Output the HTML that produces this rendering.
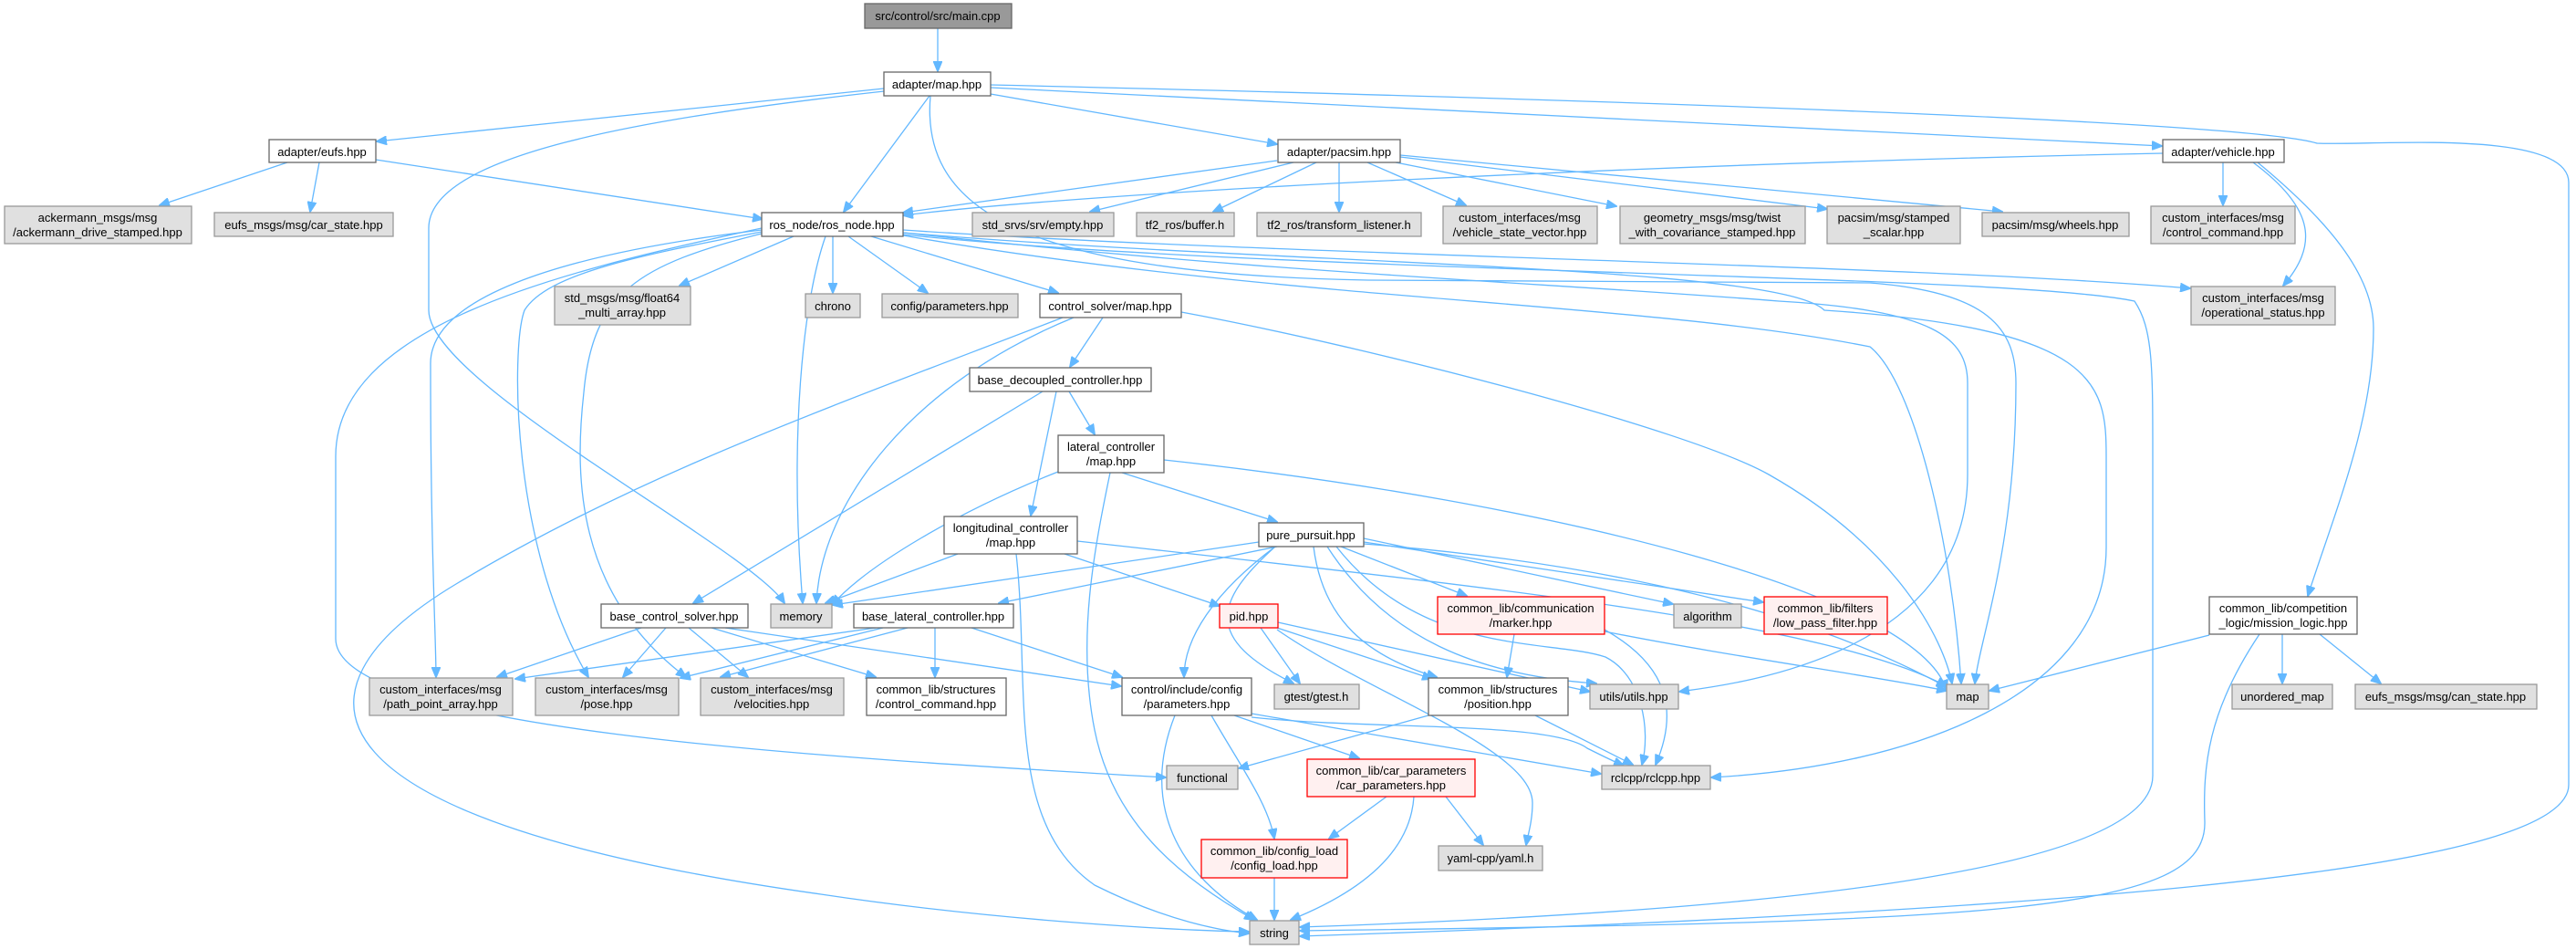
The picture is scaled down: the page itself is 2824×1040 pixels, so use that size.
<!DOCTYPE html>
<html><head><meta charset="utf-8"><style>
html,body{margin:0;padding:0;background:#fff}
svg{display:block}
text{font-family:"Liberation Sans",Arial,sans-serif;font-size:13px;fill:#000;text-anchor:middle}
.e{fill:none;stroke:#63b8ff;stroke-width:1.3}
.w{fill:#fff;stroke:#666;stroke-width:1.3}
.g{fill:#e0e0e0;stroke:#999;stroke-width:1.3}
.r{fill:#fff0f0;stroke:#ff0000;stroke-width:1.3}
.m{fill:#999;stroke:#666;stroke-width:1.3}
</style></head><body>
<svg width="2824" height="1040" viewBox="0 0 2824 1040" xmlns="http://www.w3.org/2000/svg">
<defs><marker id="a" markerWidth="12" markerHeight="10" refX="11" refY="5" orient="auto" markerUnits="userSpaceOnUse"><path d="M0,0 L12,5 L0,10 z" fill="#63b8ff" stroke="#63b8ff"/></marker></defs>
<g marker-end="url(#a)">
<path class="e" d="M1028,31 L1028,78"/>
<path class="e" d="M969,97 L413,155"/>
<path class="e" d="M969,100 C700,130 470,170 470,250 L470,340 C470,420 820,600 860,661"/>
<path class="e" d="M1019,105 L925,232"/>
<path class="e" d="M1086,103 L1400,158"/>
<path class="e" d="M1086,96 L2370,160"/>
<path class="e" d="M1086,93 C1600,105 2450,130 2540,157 C2600,160 2816,140 2816,200 L2816,860 C2816,960 2200,1000 1425,1026"/>
<path class="e" d="M1020,105 C1010,220 1100,300 1500,307 L2050,310 C2180,320 2210,360 2210,420 C2210,600 2170,700 2165,749"/>
<path class="e" d="M412,175 L836,240"/>
<path class="e" d="M315,178 L175,225"/>
<path class="e" d="M350,178 L340,232"/>
<path class="e" d="M1400,176 L990,233"/>
<path class="e" d="M2371,168 C1800,180 1200,210 990,236"/>
<path class="e" d="M1418,178 L1195,232"/>
<path class="e" d="M1443,178 L1330,232"/>
<path class="e" d="M1468,178 L1468,232"/>
<path class="e" d="M1499,178 L1607,225"/>
<path class="e" d="M1530,178 L1772,226"/>
<path class="e" d="M1535,172 L2003,229"/>
<path class="e" d="M1535,170 L2195,232"/>
<path class="e" d="M2437,178 L2437,225"/>
<path class="e" d="M2470,178 C2540,230 2540,270 2503,313"/>
<path class="e" d="M2475,178 C2550,240 2602,300 2602,360 C2602,460 2560,560 2530,653"/>
<path class="e" d="M870,259 L745,313"/>
<path class="e" d="M913,259 L913,321"/>
<path class="e" d="M930,259 L1017,321"/>
<path class="e" d="M955,259 L1160,321"/>
<path class="e" d="M905,259 C880,330 865,480 880,661"/>
<path class="e" d="M835,252 C600,280 470,330 472,400 C472,600 478,700 478,742"/>
<path class="e" d="M835,254 C700,280 600,300 575,340 C560,380 560,600 645,742"/>
<path class="e" d="M835,256 C700,290 650,320 640,430 C630,520 630,650 752,742"/>
<path class="e" d="M835,250 C600,300 368,360 368,500 L368,700 C368,800 900,830 1278,852"/>
<path class="e" d="M990,252 C1400,280 2100,290 2401,316"/>
<path class="e" d="M990,255 C1400,290 1950,290 2000,340 C2300,360 2309,420 2309,500 L2309,600 C2309,760 2100,840 1876,852"/>
<path class="e" d="M990,257 C1400,300 2200,300 2340,330 C2360,360 2360,400 2360,500 L2360,850 C2360,960 1900,1000 1425,1016"/>
<path class="e" d="M990,255 C1400,300 1700,310 1950,330 C2120,340 2157,370 2157,420 L2157,520 C2157,720 1900,750 1841,758"/>
<path class="e" d="M990,258 C1400,330 1800,330 2050,380 C2100,420 2140,600 2150,749"/>
<path class="e" d="M1165,348 C900,450 700,520 500,640 C300,760 330,900 900,980 C1100,1010 1300,1020 1369,1021"/>
<path class="e" d="M1177,348 C1000,420 900,550 895,661"/>
<path class="e" d="M1209,348 L1173,402"/>
<path class="e" d="M1295,342 C1500,380 1850,470 1939,520 C2080,600 2130,700 2140,749"/>
<path class="e" d="M1143,429 L760,661"/>
<path class="e" d="M1158,429 L1130,565"/>
<path class="e" d="M1172,429 L1200,476"/>
<path class="e" d="M1165,515 C1050,560 950,620 912,663"/>
<path class="e" d="M1230,518 L1400,572"/>
<path class="e" d="M1217,518 C1200,600 1180,700 1200,800 C1220,900 1290,960 1375,1008"/>
<path class="e" d="M1276,504 C1700,550 2100,650 2134,756"/>
<path class="e" d="M1050,607 L905,661"/>
<path class="e" d="M1167,607 L1337,664"/>
<path class="e" d="M1114,607 C1130,750 1100,900 1200,970 C1280,1010 1340,1020 1369,1023"/>
<path class="e" d="M1181,593 C1600,640 2000,680 2134,752"/>
<path class="e" d="M1380,594 L913,663"/>
<path class="e" d="M1400,599 L1095,661"/>
<path class="e" d="M1398,599 C1330,650 1298,700 1298,742"/>
<path class="e" d="M1398,599 C1330,660 1320,700 1418,749"/>
<path class="e" d="M1470,599 L1608,653"/>
<path class="e" d="M1495,590 L1834,662"/>
<path class="e" d="M1495,594 L1933,660"/>
<path class="e" d="M1440,599 C1450,680 1500,720 1575,742"/>
<path class="e" d="M1455,599 C1520,700 1620,740 1750,749"/>
<path class="e" d="M1465,599 C1560,720 1700,700 1760,720 C1800,740 1810,800 1800,838"/>
<path class="e" d="M1495,596 C1800,620 2000,680 2134,753"/>
<path class="e" d="M960,688 L565,744"/>
<path class="e" d="M968,688 L746,743"/>
<path class="e" d="M995,688 L790,742"/>
<path class="e" d="M1025,688 L1025,742"/>
<path class="e" d="M1065,688 L1230,742"/>
<path class="e" d="M703,688 L545,742"/>
<path class="e" d="M730,688 L683,742"/>
<path class="e" d="M755,688 L820,742"/>
<path class="e" d="M780,688 L960,742"/>
<path class="e" d="M795,688 L1229,752"/>
<path class="e" d="M1382,688 L1425,749"/>
<path class="e" d="M1400,688 L1570,744"/>
<path class="e" d="M1401,682 L1743,758"/>
<path class="e" d="M1400,690 C1500,760 1680,820 1680,880 C1680,900 1675,915 1673,926"/>
<path class="e" d="M1759,690 C1830,730 1840,780 1815,838"/>
<path class="e" d="M1759,692 C1900,720 2050,740 2134,757"/>
<path class="e" d="M1660,695 L1652,742"/>
<path class="e" d="M1288,784 C1250,880 1290,960 1378,1008"/>
<path class="e" d="M1328,784 C1360,840 1390,880 1397,919"/>
<path class="e" d="M1353,784 L1490,831"/>
<path class="e" d="M1372,782 L1755,848"/>
<path class="e" d="M1372,786 C1500,800 1700,790 1740,820 C1760,830 1770,835 1780,839"/>
<path class="e" d="M1566,784 L1358,842"/>
<path class="e" d="M1683,784 L1790,838"/>
<path class="e" d="M1520,873 L1457,919"/>
<path class="e" d="M1585,873 L1626,926"/>
<path class="e" d="M1550,873 C1545,950 1460,990 1415,1008"/>
<path class="e" d="M1397,962 L1397,1008"/>
<path class="e" d="M2422,696 L2181,757"/>
<path class="e" d="M2502,695 L2502,749"/>
<path class="e" d="M2543,695 L2610,749"/>
<path class="e" d="M2477,695 C2420,780 2415,840 2417,900 C2420,1000 2200,1010 1425,1020"/>
</g>
<g>
<rect class="m" x="948" y="4" width="161" height="27"/><text x="1028" y="22">src/control/src/main.cpp</text>
<rect class="w" x="969" y="79" width="117" height="26"/><text x="1027" y="97">adapter/map.hpp</text>
<rect class="w" x="295" y="153" width="117" height="25"/><text x="353" y="171">adapter/eufs.hpp</text>
<rect class="w" x="1401" y="153" width="134" height="25"/><text x="1468" y="171">adapter/pacsim.hpp</text>
<rect class="w" x="2371" y="153" width="133" height="25"/><text x="2437" y="171">adapter/vehicle.hpp</text>
<rect class="g" x="5" y="226" width="205" height="41"/><text x="107" y="243">ackermann_msgs/msg</text><text x="107" y="259">/ackermann_drive_stamped.hpp</text>
<rect class="g" x="235" y="233" width="196" height="26"/><text x="333" y="251">eufs_msgs/msg/car_state.hpp</text>
<rect class="w" x="835" y="233" width="155" height="26"/><text x="912" y="251">ros_node/ros_node.hpp</text>
<rect class="g" x="1066" y="233" width="155" height="26"/><text x="1143" y="251">std_srvs/srv/empty.hpp</text>
<rect class="g" x="1246" y="233" width="107" height="26"/><text x="1299" y="251">tf2_ros/buffer.h</text>
<rect class="g" x="1378" y="233" width="180" height="26"/><text x="1468" y="251">tf2_ros/transform_listener.h</text>
<rect class="g" x="1582" y="226" width="169" height="41"/><text x="1666" y="243">custom_interfaces/msg</text><text x="1666" y="259">/vehicle_state_vector.hpp</text>
<rect class="g" x="1776" y="226" width="203" height="41"/><text x="1877" y="243">geometry_msgs/msg/twist</text><text x="1877" y="259">_with_covariance_stamped.hpp</text>
<rect class="g" x="2003" y="226" width="146" height="41"/><text x="2076" y="243">pacsim/msg/stamped</text><text x="2076" y="259">_scalar.hpp</text>
<rect class="g" x="2173" y="233" width="161" height="26"/><text x="2253" y="251">pacsim/msg/wheels.hpp</text>
<rect class="g" x="2358" y="226" width="158" height="41"/><text x="2437" y="243">custom_interfaces/msg</text><text x="2437" y="259">/control_command.hpp</text>
<rect class="g" x="608" y="314" width="149" height="42"/><text x="682" y="331">std_msgs/msg/float64</text><text x="682" y="347">_multi_array.hpp</text>
<rect class="g" x="883" y="322" width="60" height="26"/><text x="913" y="340">chrono</text>
<rect class="g" x="967" y="322" width="149" height="26"/><text x="1041" y="340">config/parameters.hpp</text>
<rect class="w" x="1140" y="322" width="155" height="26"/><text x="1217" y="340">control_solver/map.hpp</text>
<rect class="g" x="2402" y="314" width="158" height="42"/><text x="2481" y="331">custom_interfaces/msg</text><text x="2481" y="347">/operational_status.hpp</text>
<rect class="w" x="1063" y="403" width="199" height="26"/><text x="1162" y="421">base_decoupled_controller.hpp</text>
<rect class="w" x="1160" y="477" width="116" height="41"/><text x="1218" y="494">lateral_controller</text><text x="1218" y="510">/map.hpp</text>
<rect class="w" x="1035" y="566" width="146" height="41"/><text x="1108" y="583">longitudinal_controller</text><text x="1108" y="599">/map.hpp</text>
<rect class="w" x="1380" y="573" width="115" height="26"/><text x="1437" y="591">pure_pursuit.hpp</text>
<rect class="w" x="659" y="662" width="161" height="26"/><text x="739" y="680">base_control_solver.hpp</text>
<rect class="g" x="845" y="662" width="67" height="26"/><text x="878" y="680">memory</text>
<rect class="w" x="936" y="662" width="175" height="26"/><text x="1023" y="680">base_lateral_controller.hpp</text>
<rect class="r" x="1337" y="662" width="64" height="26"/><text x="1369" y="680">pid.hpp</text>
<rect class="r" x="1576" y="654" width="183" height="41"/><text x="1667" y="671">common_lib/communication</text><text x="1667" y="687">/marker.hpp</text>
<rect class="g" x="1835" y="662" width="74" height="26"/><text x="1872" y="680">algorithm</text>
<rect class="r" x="1934" y="654" width="135" height="41"/><text x="2001" y="671">common_lib/filters</text><text x="2001" y="687">/low_pass_filter.hpp</text>
<rect class="w" x="2422" y="654" width="162" height="41"/><text x="2503" y="671">common_lib/competition</text><text x="2503" y="687">_logic/mission_logic.hpp</text>
<rect class="g" x="405" y="743" width="157" height="41"/><text x="483" y="760">custom_interfaces/msg</text><text x="483" y="776">/path_point_array.hpp</text>
<rect class="g" x="587" y="743" width="157" height="41"/><text x="665" y="760">custom_interfaces/msg</text><text x="665" y="776">/pose.hpp</text>
<rect class="g" x="768" y="743" width="157" height="41"/><text x="846" y="760">custom_interfaces/msg</text><text x="846" y="776">/velocities.hpp</text>
<rect class="w" x="950" y="743" width="153" height="41"/><text x="1026" y="760">common_lib/structures</text><text x="1026" y="776">/control_command.hpp</text>
<rect class="w" x="1230" y="743" width="142" height="41"/><text x="1301" y="760">control/include/config</text><text x="1301" y="776">/parameters.hpp</text>
<rect class="g" x="1397" y="750" width="93" height="27"/><text x="1443" y="768">gtest/gtest.h</text>
<rect class="w" x="1566" y="743" width="153" height="41"/><text x="1642" y="760">common_lib/structures</text><text x="1642" y="776">/position.hpp</text>
<rect class="g" x="1743" y="750" width="97" height="27"/><text x="1791" y="768">utils/utils.hpp</text>
<rect class="g" x="2134" y="750" width="46" height="27"/><text x="2157" y="768">map</text>
<rect class="g" x="2447" y="750" width="110" height="27"/><text x="2502" y="768">unordered_map</text>
<rect class="g" x="2582" y="750" width="199" height="27"/><text x="2681" y="768">eufs_msgs/msg/can_state.hpp</text>
<rect class="g" x="1279" y="839" width="78" height="26"/><text x="1318" y="857">functional</text>
<rect class="r" x="1433" y="832" width="184" height="41"/><text x="1525" y="849">common_lib/car_parameters</text><text x="1525" y="865">/car_parameters.hpp</text>
<rect class="g" x="1756" y="839" width="119" height="26"/><text x="1815" y="857">rclcpp/rclcpp.hpp</text>
<rect class="r" x="1317" y="920" width="160" height="42"/><text x="1397" y="937">common_lib/config_load</text><text x="1397" y="953">/config_load.hpp</text>
<rect class="g" x="1577" y="927" width="114" height="27"/><text x="1634" y="945">yaml-cpp/yaml.h</text>
<rect class="g" x="1370" y="1009" width="54" height="26"/><text x="1397" y="1027">string</text>
</g>
</svg>
</body></html>
